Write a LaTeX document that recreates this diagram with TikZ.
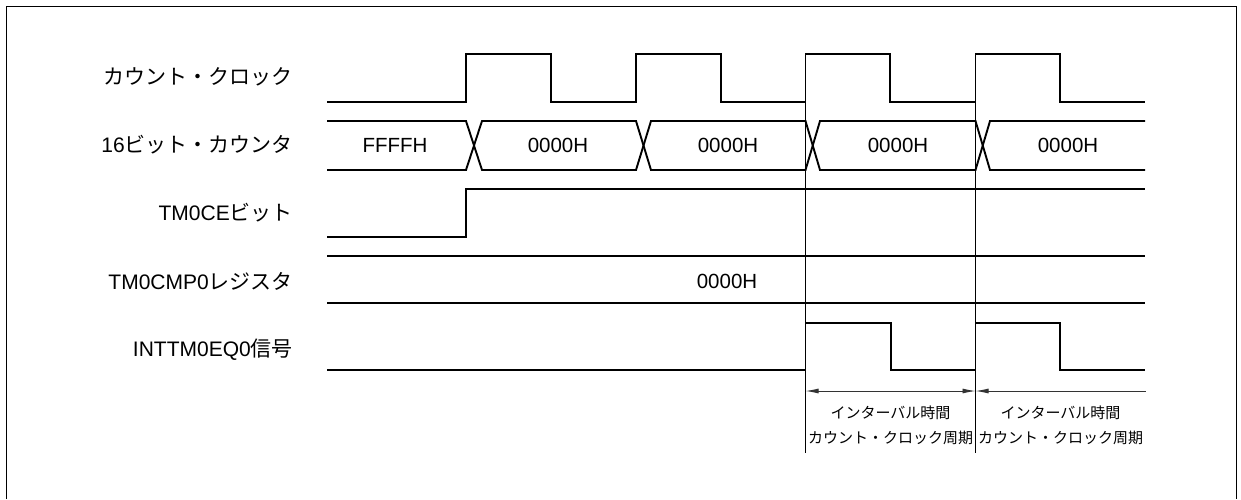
\documentclass[tikz,border=0pt]{standalone}
\usepackage{fontspec}
\setmainfont{Liberation Sans}
\newfontfamily\jp{Noto Sans CJK JP}
\usetikzlibrary{arrows.meta}

\begin{document}
\begin{tikzpicture}[
  x=1pt, y=-1pt,
  sig/.style={line width=1.9pt, line join=miter},
  marker/.style={line width=0.8pt},
  lab/.style={anchor=east, inner sep=0pt, font=\fontsize{21}{25}\selectfont},
  val/.style={inner sep=0pt, font=\fontsize{20.5}{24}\selectfont},
  period/.style={align=center, inner sep=0pt, font=\fontsize{15}{25}\selectfont\jp},
  span/.style={line width=0.9pt, black!80},
  twohead/.style={span, {Latex[length=13pt,width=5pt]}-{Latex[length=13pt,width=5pt]}},
  onehead/.style={span, {Latex[length=13pt,width=5pt]}-}
]
\useasboundingbox (0,0) rectangle (1241,499);
% frame
\draw[line width=1.6pt] (6.5,499) -- (6.5,6.5) -- (1236.5,6.5) -- (1236.5,499);

% signal names
\node[lab] (lclk) at (293,77) {\jp カウント・クロック};
\node[lab] (lcnt) at (293,145) {16\jp ビット・カウンタ};
\node[lab] (lce) at (293,213) {TM0CE\jp ビット};
\node[lab] (lcmp) at (293,281) {TM0CMP0\jp レジスタ};
\node[lab] (lint) at (293,350) {INTTM0EQ0\jp 信号};

% count clock
\draw[sig] (327,102) -- (466,102) -- (466,54) -- (551,54) -- (551,102) -- (636,102) -- (636,54) -- (721,54)
  -- (721,102) -- (805.5,102) -- (805.5,54) -- (890,54) -- (890,102) -- (975.5,102) -- (975.5,54)
  -- (1060,54) -- (1060,102) -- (1145,102);

% 16-bit counter
\draw[sig] (327,121) -- (466,121) -- (482,170) -- (636,170) -- (651,121) -- (805.5,121) -- (820,170)
  -- (975.5,170) -- (990,121) -- (1145,121);
\draw[sig] (327,170) -- (466,170) -- (482,121) -- (636,121) -- (651,170) -- (805.5,170) -- (820,121)
  -- (975.5,121) -- (990,170) -- (1145,170);
\node[val] (v0) at (395,145.5) {FFFFH};
\node[val] (v1) at (558,145.5) {0000H};
\node[val] (v2) at (728,145.5) {0000H};
\node[val] (v3) at (898,145.5) {0000H};
\node[val] (v4) at (1068,145.5) {0000H};

% TM0CE bit
\draw[sig] (327,237) -- (466,237) -- (466,189) -- (1145,189);

% TM0CMP0 register
\draw[sig] (327,256) -- (1145,256);
\draw[sig] (327,303) -- (1145,303);
\node[val] (vcmp) at (727,281.5) {0000H};

% INTTM0EQ0 signal
\draw[sig] (327,370) -- (805.5,370) -- (805.5,323) -- (891,323) -- (891,370) -- (975.5,370) -- (975.5,323)
  -- (1060,323) -- (1060,370) -- (1145,370);

% interval markers
\coordinate (t1) at (805.5,102);
\coordinate (t2) at (975.5,102);
\coordinate (b1) at (805.5,453);
\coordinate (b2) at (975.5,453);
\coordinate (a1) at (805.5,391);
\coordinate (a2) at (975.5,391);
\coordinate (aend) at (1145.5,391);
\draw[marker] (t1) -- (b1);
\draw[marker] (t2) -- (b2);
\draw[twohead] (a1) -- (a2);
\draw[onehead] (a2) -- (aend);
\node[period] (p1) at (890.5,425.5) {インターバル時間\\カウント・クロック周期};
\node[period] (p2) at (1060.5,425.5) {インターバル時間\\カウント・クロック周期};
\end{tikzpicture}
\end{document}
